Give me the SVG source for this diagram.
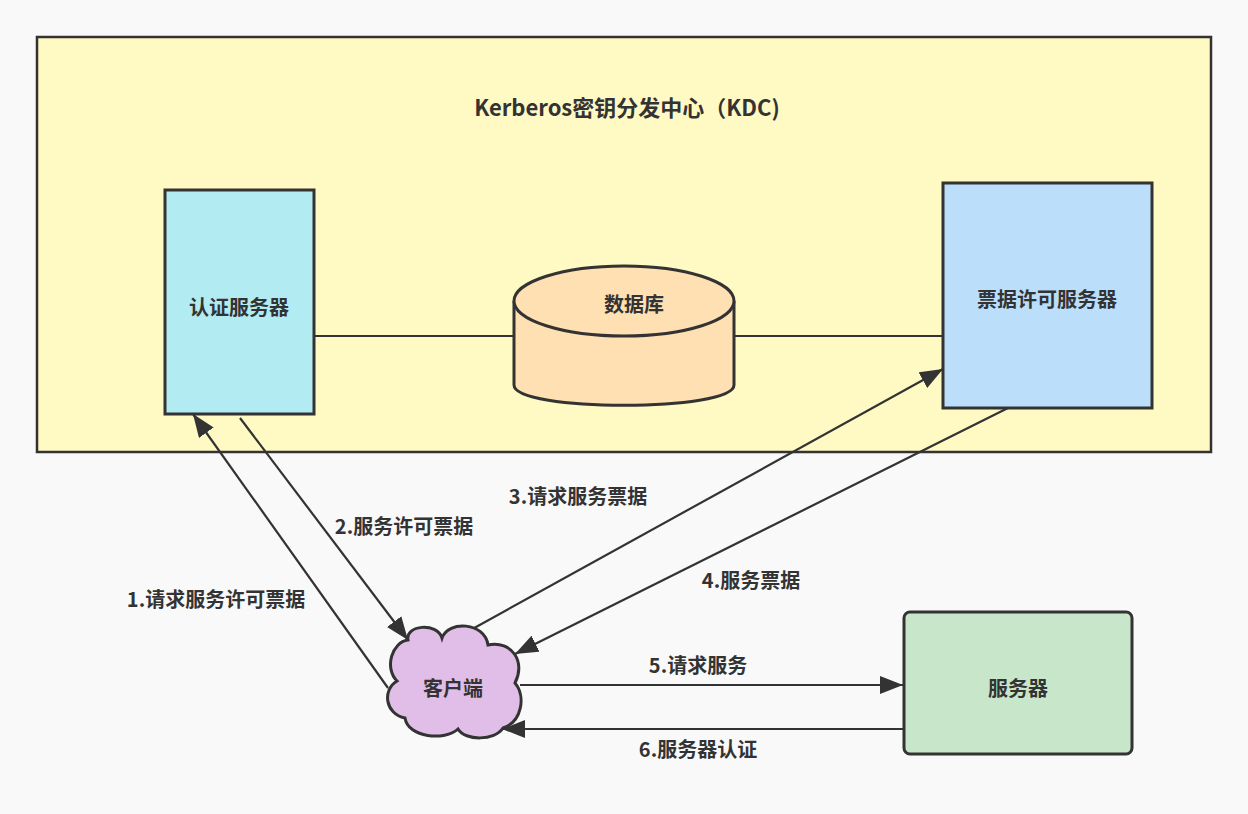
<svg xmlns="http://www.w3.org/2000/svg" width="1248" height="814" viewBox="0 0 1248 814">
<style>
.n{stroke:#333;stroke-width:3}
.t{font-family:"Noto Sans CJK SC","Noto Sans",sans-serif;font-weight:bold;font-size:20px;fill:#333;text-anchor:middle;dominant-baseline:central}
.c{stroke:#333;stroke-width:2.2;fill:none}
</style>
<defs>
<marker id="ah" markerUnits="userSpaceOnUse" markerWidth="24" markerHeight="18" refX="23" refY="9" orient="auto">
<path d="M0,0 L23,9 L0,18 Z" fill="#333"/>
</marker>
</defs>
<rect width="1248" height="814" fill="#f9f9f9"/>
<g id="kdc">
<rect x="37" y="37" width="1174" height="415" fill="#fff9c4" stroke="#333" stroke-width="2.5"/>
<text class="t" x="627" y="106" style="font-size:22px">Kerberos密钥分发中心（KDC)</text>
</g>
<g id="connectors">
<line class="c" x1="314" y1="336" x2="514" y2="336"/>
<line class="c" x1="734" y1="336" x2="943" y2="336"/>
<line class="c" x1="388" y1="688" x2="193" y2="414" marker-end="url(#ah)"/>
<line class="c" x1="240" y1="418" x2="408" y2="640" marker-end="url(#ah)"/>
<line class="c" x1="467" y1="632" x2="943" y2="369" marker-end="url(#ah)"/>
<line class="c" x1="1010" y1="407" x2="515" y2="654" marker-end="url(#ah)"/>
<line class="c" x1="520" y1="685" x2="903" y2="685" marker-end="url(#ah)"/>
<line class="c" x1="903" y1="729" x2="502" y2="729" marker-end="url(#ah)"/>
<text class="t" x="216" y="598">1.请求服务许可票据</text>
<text class="t" x="404" y="525">2.服务许可票据</text>
<text class="t" x="578" y="495">3.请求服务票据</text>
<text class="t" x="751" y="579">4.服务票据</text>
<text class="t" x="698" y="664">5.请求服务</text>
<text class="t" x="698" y="748">6.服务器认证</text>
</g>
<g id="auth">
<rect class="n" x="165" y="190" width="149" height="224" fill="#b2ebf2"/>
<text class="t" x="239" y="306">认证服务器</text>
</g>
<g id="db">
<path class="n" d="M514,301 L514,385 C514,412 734,412 734,385 L734,301" fill="#ffe0b2"/>
<ellipse class="n" cx="624" cy="301" rx="110" ry="35" fill="#ffe0b2"/>
<text class="t" x="634" y="303">数据库</text>
</g>
<g id="tgs">
<rect class="n" x="943" y="183" width="209" height="225" fill="#bbdefb"/>
<text class="t" x="1047" y="298">票据许可服务器</text>
</g>
<g id="client">
<path class="n" d="M408,640 C405,625 437,622 442,638 C448,620 485,622 488,645 C512,640 526,662 515,683 C526,696 522,722 503,728 C495,741 465,741 458,729 C445,741 408,738 405,718 C385,714 382,690 397,681 C384,668 392,642 408,640 Z" fill="#e1bee7"/>
<text class="t" x="453" y="687">客户端</text>
</g>
<g id="server">
<rect class="n" x="904" y="612" width="228" height="142" rx="6" fill="#c8e6c9"/>
<text class="t" x="1018" y="687">服务器</text>
</g>
</svg>
